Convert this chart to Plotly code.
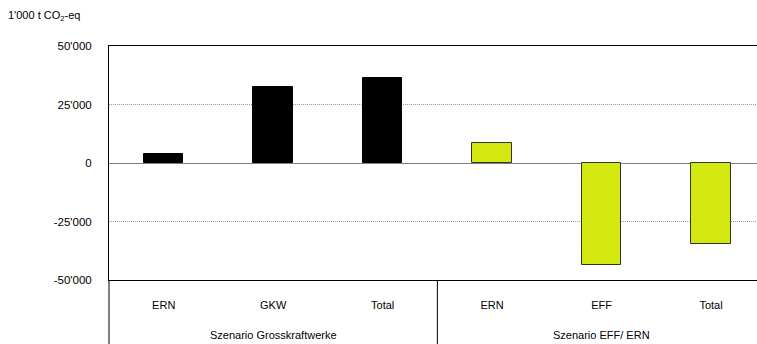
import plotly.graph_objects as go

# ---- data ----
groups = ["Szenario Grosskraftwerke", "Szenario EFF/ ERN"]
cat_labels = ["ERN", "GKW", "Total", "ERN", "EFF", "Total"]
values_gkw = [4000, 32500, 36300]
values_eff = [8500, -43600, -34600]
tick_vals = [50000, 25000, 0, -25000, -50000]
tick_text = ["50'000", "25'000", "0", "-25'000", "-50'000"]
unit_label = "1'000 t CO<sub>2</sub>-eq"

idx_gkw = [0, 1, 2]
idx_eff = [3, 4, 5]
FONT = "Liberation Sans, Arial, sans-serif"

fig = go.Figure()
fig.add_trace(go.Bar(x=idx_gkw, y=values_gkw, width=0.36,
                     marker=dict(color="#000000", line=dict(color="#000000", width=1)),
                     showlegend=False, hoverinfo="skip"))
fig.add_trace(go.Bar(x=idx_eff, y=values_eff, width=0.36,
                     marker=dict(color="#d2e80e", line=dict(color="#333333", width=1)),
                     showlegend=False, hoverinfo="skip"))

fig.update_layout(
    width=757, height=344,
    margin=dict(l=109, r=0, t=46, b=64),
    paper_bgcolor="white", plot_bgcolor="white",
    font=dict(family=FONT, size=11, color="#000000"),
    title=dict(text=unit_label, xref="container", yref="container",
               x=8/757, xanchor="left", y=1-15/344, yanchor="middle",
               font=dict(family=FONT, size=11, color="#000000")),
    bargap=0,
)

fig.update_xaxes(
    range=[-0.5, 5.42], tickvals=[0, 1, 2, 3, 4, 5], ticktext=cat_labels,
    showgrid=False, zeroline=False, ticks="", ticklabelstandoff=15,
    showline=True, linecolor="#000000", linewidth=1, mirror=True,
    tickfont=dict(family=FONT, size=11),
)
fig.update_yaxes(
    range=[-50000, 50000], tickvals=tick_vals, ticktext=tick_text,
    showgrid=True, gridcolor="#9a9a9a", griddash="1px,1px", gridwidth=1,
    zeroline=True, zerolinecolor="#808080", zerolinewidth=1,
    showline=True, linecolor="#000000", linewidth=1,
    ticks="", ticklabelstandoff=14,
    tickfont=dict(family=FONT, size=11.5),
)

# group labels
group_centers = [sum(idx_gkw) / 3, sum(idx_eff) / 3]
for g, c in zip(groups, group_centers):
    fig.add_annotation(x=c, xref="x", y=-0.235, yref="paper", text=g,
                       showarrow=False, xanchor="center", yanchor="middle",
                       font=dict(family=FONT, size=11))

# divider lines below the plot
fig.add_shape(type="line", xref="x", yref="paper", x0=2.5, x1=2.5, y0=0, y1=-0.28,
              line=dict(color="#000000", width=1))
fig.add_shape(type="line", xref="paper", yref="paper", x0=0, x1=0, y0=0, y1=-0.28,
              line=dict(color="#000000", width=1))

fig.write_html("out.html")
